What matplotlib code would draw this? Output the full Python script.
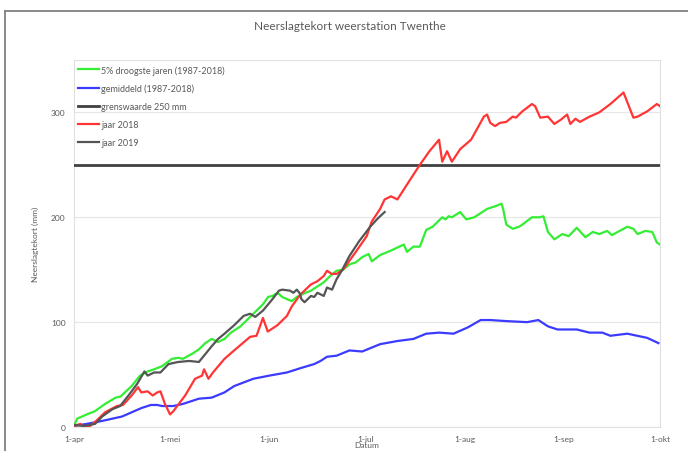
import datetime as dt
import matplotlib
matplotlib.use("Agg")
import matplotlib.pyplot as plt
from matplotlib.lines import Line2D

# ---------------- data (day offset from 1 April, value in mm) ----------------
title = "Neerslagtekort weerstation Twenthe"
ylabel = "Neerslagtekort (mm)"
xlabel = "Datum"
tick_dates = ["2018-04-01", "2018-05-01", "2018-06-01", "2018-07-01",
              "2018-08-01", "2018-09-01", "2018-10-01"]
tick_labels = ["1-apr", "1-mei", "1-jun", "1-jul", "1-aug", "1-sep", "1-okt"]
y_ticks = [0, 100, 200, 300]
grenswaarde = 250

dag_droog = [0, 1, 4, 6.5, 9.7, 13, 14.5, 18, 20.6, 23, 25, 27.5, 30.6, 32.5, 34, 37, 39, 41, 43, 45,
             47, 49, 52, 56, 59, 60.6, 62, 63, 64, 65, 68, 69.6, 71.5, 74, 76, 78, 80, 82, 84, 86,
             88, 90, 92, 93, 95.6, 98.8, 103, 104, 106, 108, 110, 112, 115, 116, 117, 118, 120.6,
             122.5, 125, 129, 132, 133.5, 134, 135, 137, 139, 140, 143, 145.5, 146.6, 148, 150,
             152.5, 154.5, 157, 159.7, 162, 164, 166.5, 168, 172.8, 174.7, 176, 178.4, 180.6, 182, 183]
val_droog = [1, 8, 12, 15, 22, 28, 29, 39, 49, 53, 55, 58, 65, 66, 65, 70, 74, 80, 84, 81,
             84, 90, 96, 108, 117, 124, 125, 127, 127, 124, 120, 124, 127, 130, 134, 138, 144, 149, 150, 155,
             157, 162, 165, 158, 164, 168, 174, 167, 172, 172, 188, 191, 200, 198, 201, 200, 205,
             198, 200, 208, 211, 213, 208, 193, 189, 191, 193, 200, 200, 201, 186, 179,
             184, 182, 190, 181, 186, 184, 187, 183, 191, 189, 184, 187, 186, 176, 174]

dag_gem = [0, 4, 7.5, 10.6, 15, 18, 21, 24, 26, 27.5, 31, 34, 39, 43, 44.6, 47, 50, 56, 61, 66.5,
           70.6, 75, 77, 79, 82, 86, 90, 95.6, 101, 106, 110, 114, 118.5, 123, 127, 130, 135,
           141.5, 145, 148, 151, 157, 161, 165, 167.5, 172.8, 179, 182.5]
val_gem = [1, 3, 5, 7, 10, 14, 18, 21, 21, 20, 20, 22, 27, 28, 30, 33, 39, 46, 49, 52,
           56, 60, 63, 67, 68, 73, 72, 79, 82, 84, 89, 90, 89, 95, 102, 102, 101,
           100, 102, 96, 93, 93, 90, 90, 87, 89, 85, 80]

dag_2018 = [0, 2, 3, 5, 7, 9.7, 13.4, 15.3, 18, 20, 21, 23, 24.6, 26, 27, 28.4, 30, 31, 34.7, 37.8,
            40, 40.6, 42, 43.4, 47, 50, 55, 57, 59, 60.5, 63.5, 66.5, 68, 70.6, 74, 76, 78, 79,
            80.5, 82, 84, 88, 91.4, 93, 95.6, 97, 99, 101, 105, 108, 111, 114, 115, 116.5, 118,
            120.6, 124, 128, 129, 130, 131.5, 133, 135, 137, 138, 140, 143, 144, 145.6, 148, 150,
            152, 154, 155, 156.6, 158, 161, 164, 167.5, 171.6, 174.7, 176, 179, 182, 183]
val_2018 = [1, 3, 0, 1, 6, 14, 20, 21, 30, 38, 33, 34, 30, 33, 34, 22, 12, 15, 30, 46,
            49, 55, 46, 52, 65, 73, 86, 87, 104, 91, 97, 106, 115, 126, 136, 139, 144, 149,
            146, 146, 150, 167, 182, 196, 208, 217, 220, 217, 236, 250, 263, 274, 253, 263, 253,
            265, 274, 296, 298, 290, 287, 290, 291, 296, 295, 301, 308, 306, 295, 296, 289,
            293, 298, 289, 294, 291, 296, 300, 308, 319, 295, 296, 301, 308, 306]

dag_2019 = [0, 3, 6.6, 8.8, 12, 14.4, 17, 19.7, 22, 23, 25, 27, 29.5, 32.5, 36, 39, 43, 45, 47, 50,
            53, 55, 56.6, 59, 62, 64, 65, 67.5, 68.5, 69.6, 70.6, 71, 72, 74, 75, 76, 78, 79, 80.6,
            82, 83.6, 86, 89, 92.5, 94.6, 95.6, 97]
val_2019 = [2, 1, 3, 10, 17, 20, 30, 41, 53, 49, 52, 52, 60, 62, 63, 62, 77, 84, 89, 97,
            106, 108, 105, 111, 122, 130, 131, 130, 128, 131, 127, 122, 119, 125, 124, 128, 125, 133, 131,
            141, 149, 163, 177, 191, 198, 201, 205]

start = dt.datetime(2018, 4, 1)
end = dt.datetime(2018, 10, 1)


def to_dates(days):
    return [start + dt.timedelta(days=d) for d in days]


# ---------------- figure ----------------
TXT = "#595959"
plt.rcParams["font.family"] = ["Lato", "DejaVu Sans"]

fig = plt.figure(figsize=(6.88, 4.52), dpi=100)
ax = fig.add_axes([74 / 688, 1 - 428 / 452, (660 - 74) / 688, (428 - 61) / 452])

ax.plot(to_dates(dag_droog), val_droog, color="#33ee33", lw=1.6, label="5% droogste jaren (1987-2018)", zorder=3)
ax.plot(to_dates(dag_gem), val_gem, color="#3b3bff", lw=1.6, label="gemiddeld (1987-2018)", zorder=3)
ax.plot([start, end], [grenswaarde, grenswaarde], color="#404040", lw=2.0, label="grenswaarde 250 mm", zorder=3)
ax.plot(to_dates(dag_2018), val_2018, color="#ff3535", lw=1.6, label="jaar 2018", zorder=4)
ax.plot(to_dates(dag_2019), val_2019, color="#555555", lw=1.6, label="jaar 2019", zorder=5)

ax.set_xlim(start, end)
ax.set_ylim(0, 350)
ax.set_yticks(y_ticks)
ax.set_xticks([dt.datetime.strptime(s, "%Y-%m-%d") for s in tick_dates])
ax.set_xticklabels(tick_labels)
ax.tick_params(axis="both", length=0, labelsize=6, labelcolor=TXT, pad=6)
ax.grid(axis="y", color="#e6e6e6", lw=0.8)
ax.set_axisbelow(True)
for sp in ax.spines.values():
    sp.set_color("#e0e0e0")
    sp.set_linewidth(0.8)

ax.set_ylabel(ylabel, fontsize=6, color=TXT, labelpad=9)
fig.text(367 / 688, 1 - 446 / 452, xlabel, ha="center", va="center", fontsize=6, color=TXT)
fig.text(0.5087, 1 - 27 / 452, title, ha="center", va="center", fontsize=8.5, color=TXT)

leg = ax.legend(loc="upper left", bbox_to_anchor=(4 / 586, 1 - 5 / 367), frameon=False,
                fontsize=6.5, handlelength=2.3, handletextpad=0.25, labelspacing=1.0,
                borderpad=0, borderaxespad=0)
for t in leg.get_texts():
    t.set_color(TXT)

# outer chart frame (partly cropped)
fig.add_artist(Line2D([5 / 688, 5 / 688], [0, 1 - 12 / 452], transform=fig.transFigure, color="#808080", lw=1.3))
fig.add_artist(Line2D([5 / 688, 1], [1 - 12 / 452, 1 - 12 / 452], transform=fig.transFigure, color="#808080", lw=1.3))

fig.savefig("out.png", dpi=100)
